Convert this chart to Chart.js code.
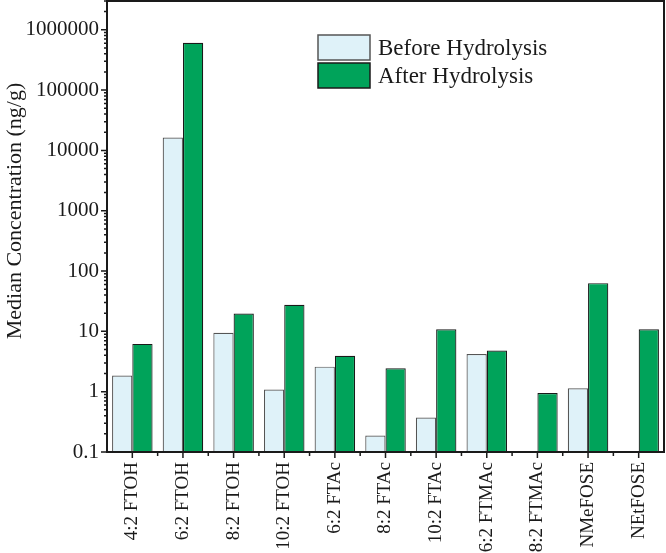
<!DOCTYPE html>
<html>
<head>
<meta charset="utf-8">
<script src="https://cdn.jsdelivr.net/npm/chart.js@4.4.1/dist/chart.umd.min.js"></script>
<style>
  html, body { margin: 0; padding: 0; background: #fff; }
  #wrap { width: 666px; height: 553px; }
</style>
</head>
<body>
<div id="wrap"><canvas id="myChart" width="666" height="553"></canvas></div>
<script>
const categories = ['4:2 FTOH', '6:2 FTOH', '8:2 FTOH', '10:2 FTOH', '6:2 FTAc', '8:2 FTAc', '10:2 FTAc', '6:2 FTMAc', '8:2 FTMAc', 'NMeFOSE', 'NEtFOSE'];
const beforeHydrolysis = [1.85, 16300, 9.5, 1.09, 2.6, 0.188, 0.373, 4.2, null, 1.14, null];
const afterHydrolysis = [6.2, 607000, 19.7, 27.5, 3.93, 2.45, 10.8, 4.8, 0.95, 63, 10.8];
const yTickValues = [0.1, 1, 10, 100, 1000, 10000, 100000, 1000000];
const yMin = 0.1;
const yMax = 3000000;
const yTitle = 'Median Concentration (ng/g)';

const serif = "'Liberation Serif', 'Times New Roman', serif";
const ink = '#1a1a1a';

// ticks and frame drawn by hand, positions come from the scales
const axisTicks = {
    id: 'axisTicks',
    afterDraw(chart) {
        const { ctx, chartArea: a, scales: { x, y } } = chart;
        ctx.save();
        ctx.strokeStyle = ink;
        ctx.lineWidth = 1.5;
        ctx.beginPath();
        for (let e = -1; e <= 6; e++) {
            for (let k = 1; k <= 9; k++) {
                const v = k * Math.pow(10, e);
                if (v < yMin * 0.999 || v > yMax * 1.001) continue;
                const py = y.getPixelForValue(v);
                const len = k === 1 ? 6 : 3;
                ctx.moveTo(a.left, py);
                ctx.lineTo(a.left - len, py);
            }
        }
        for (let i = 0; i < categories.length; i++) {
            const px = x.getPixelForValue(i);
            ctx.moveTo(px, a.bottom);
            ctx.lineTo(px, a.bottom + 6);
            if (i < categories.length - 1) {
                const mid = (px + x.getPixelForValue(i + 1)) / 2;
                ctx.moveTo(mid, a.bottom);
                ctx.lineTo(mid, a.bottom + 4);
            }
        }
        ctx.stroke();
        ctx.lineWidth = 2;
        ctx.strokeRect(a.left, a.top, a.right - a.left, a.bottom - a.top);
        ctx.restore();
    }
};

const boxLegend = {
    id: 'boxLegend',
    afterDraw(chart) {
        const ctx = chart.ctx;
        ctx.save();
        ctx.font = '23px ' + serif;
        ctx.textBaseline = 'alphabetic';
        ctx.textAlign = 'left';
        chart.data.datasets.forEach((ds, i) => {
            const bx = 318, by = 35 + i * 28;
            ctx.fillStyle = ds.backgroundColor;
            ctx.fillRect(bx, by, 52, 25);
            ctx.strokeStyle = i === 0 ? '#555' : ink;
            ctx.lineWidth = 1.5;
            ctx.strokeRect(bx, by, 52, 25);
            ctx.fillStyle = ink;
            ctx.fillText(ds.label, bx + 60, by + 20);
        });
        ctx.restore();
    }
};

const sideTitle = {
    id: 'sideTitle',
    afterDraw(chart) {
        const ctx = chart.ctx;
        ctx.save();
        ctx.translate(15, 211);
        ctx.rotate(-Math.PI / 2);
        ctx.font = '22px ' + serif;
        ctx.fillStyle = ink;
        ctx.textAlign = 'center';
        ctx.textBaseline = 'middle';
        ctx.fillText(yTitle, 0, 0);
        ctx.restore();
    }
};

const ctx = document.getElementById('myChart').getContext('2d');
const myChart = new Chart(ctx, {
    type: 'bar',
    data: {
        labels: categories,
        datasets: [{
            label: 'Before Hydrolysis',
            data: beforeHydrolysis,
            backgroundColor: '#dff2f9',
            borderColor: '#555555',
            borderWidth: 1.2,
            borderSkipped: 'start',
            categoryPercentage: 0.8,
            barPercentage: 1.0
        }, {
            label: 'After Hydrolysis',
            data: afterHydrolysis,
            backgroundColor: '#00a35a',
            borderColor: '#1a1a1a',
            borderWidth: 1.2,
            borderSkipped: 'start',
            categoryPercentage: 0.8,
            barPercentage: 1.0
        }]
    },
    options: {
        responsive: false,
        animation: false,
        events: [],
        layout: { padding: { top: 1, right: 2, left: 0, bottom: 0 } },
        plugins: {
            legend: { display: false },
            tooltip: { enabled: false }
        },
        scales: {
            x: {
                grid: { display: false, drawTicks: false },
                border: { display: false },
                ticks: {
                    autoSkip: false,
                    minRotation: 90,
                    maxRotation: 90,
                    padding: 10,
                    color: ink,
                    font: { family: serif, size: 19 }
                },
                afterFit(scale) {
                    scale.height = 101;
                    scale.paddingLeft = 0;
                    scale.paddingRight = 0;
                }
            },
            y: {
                type: 'logarithmic',
                min: yMin,
                max: yMax,
                grid: { display: false, drawTicks: false },
                border: { display: false },
                afterBuildTicks(scale) {
                    scale.ticks = yTickValues.map(v => ({ value: v, major: true }));
                },
                ticks: {
                    autoSkip: false,
                    padding: 8,
                    color: ink,
                    font: { family: serif, size: 21 },
                    callback: v => String(v)
                },
                afterFit(scale) {
                    scale.width = 107;
                    scale.paddingTop = 0;
                    scale.paddingBottom = 0;
                }
            }
        }
    },
    plugins: [axisTicks, boxLegend, sideTitle]
});
</script>
</body>
</html>
